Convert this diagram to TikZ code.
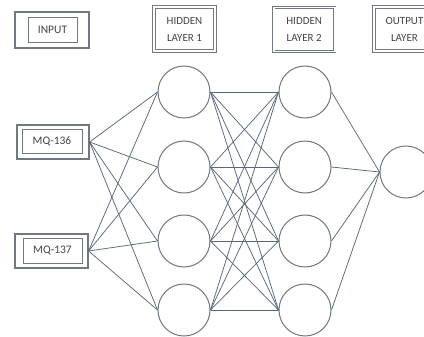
\documentclass[tikz,border=0pt]{standalone}
\usepackage{fontspec}
\setmainfont{Carlito}
\definecolor{wirecol}{RGB}{88,104,124}
\definecolor{rimcol}{RGB}{112,120,130}
\definecolor{inkcol}{RGB}{68,68,68}

\begin{document}
\begin{tikzpicture}
                \tikzset{x=1pt, y=-1pt}
                \tikzstyle{neuron}=[circle, draw=rimcol, line width=1pt, minimum size=52pt, inner sep=0pt]
                \tikzstyle{head}=[rectangle, draw=rimcol, double, double distance=1.6pt, line width=0.9pt, minimum width=61pt, minimum height=44pt, align=center, text=inkcol, font=\fontsize{11}{17}\selectfont]
                \tikzstyle{frame}=[rectangle, draw=rimcol, line width=1.2pt, inner sep=0pt]
                \tikzstyle{tag}=[rectangle, draw=rimcol, line width=0.7pt, inner sep=0pt, text=inkcol, font=\fontsize{11.5}{14}\selectfont]
                \tikzstyle{link}=[draw=wirecol, line width=0.75pt]

                \useasboundingbox (0,0) rectangle (424,337);
                \clip (0,0) rectangle (424,337);

                % column titles
                \draw (52.0, 30.0)      node[frame, minimum width=74pt, minimum height=36pt]    (inbox)  {};
                \draw (52.5, 29.5)      node[tag, minimum width=49pt, minimum height=25pt]      (intext) {INPUT};
                \draw (184.5, 29.2)     node[head]      (hone)   {HIDDEN\\LAYER 1};
                \draw (304.2, 29.6)     node[head]      (htwo)   {HIDDEN\\LAYER 2};
                \draw (404.5, 29.2)     node[head]      (hout)   {OUTPUT\\LAYER};

                % sensor inputs
                \draw (53.0, 142.0)     node[frame, minimum width=72pt, minimum height=34pt]    (m136)   {};
                \draw (52.0, 141.0)     node[tag, minimum width=60pt, minimum height=24pt]      (m136t)  {MQ-136};
                \draw (51.5, 251.0)     node[frame, minimum width=73pt, minimum height=34pt]    (m137)   {};
                \draw (52.5, 250.5)     node[tag, minimum width=59pt, minimum height=25pt]      (m137t)  {MQ-137};

                % neurons
                \foreach \k/\y in {1/92, 2/167, 3/241, 4/310} {
                    \draw (184.0, \y)   node[neuron]    (ha\k)   {};
                    \draw (305.0, \y)   node[neuron]    (hb\k)   {};
                }
                \draw (406.0, 172.0)    node[neuron]    (out)    {};

                % weights
                \foreach \i in {1,...,4} {
                    \draw [link]        (m136.east) -- (ha\i.west);
                    \draw [link]        (m137.east) -- (ha\i.west);
                    \foreach \j in {1,...,4}
                        \draw [link]    (ha\i.east) -- (hb\j.west);
                    \draw [link]        (hb\i.east) -- (out.west);
                }
            \end{tikzpicture}
\end{document}
